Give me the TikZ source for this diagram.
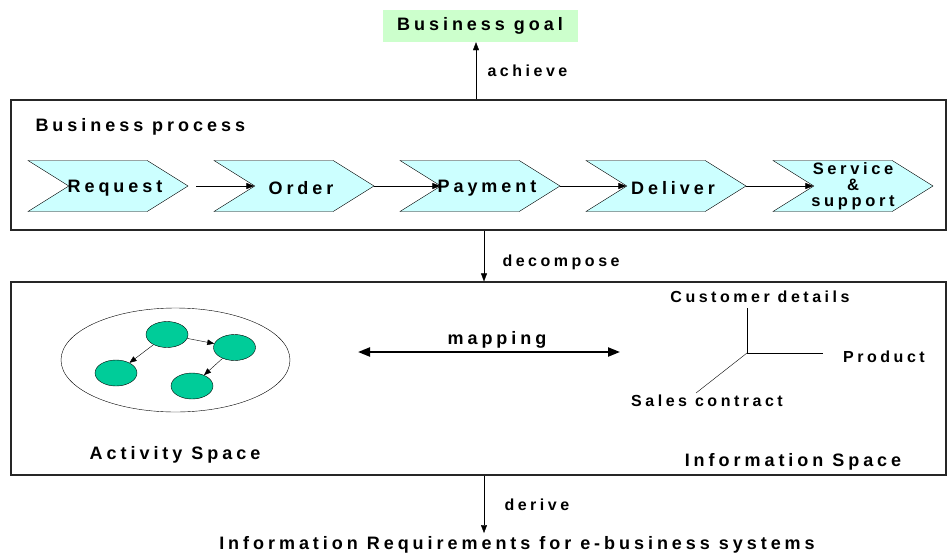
\documentclass[tikz,border=0pt]{standalone}
\usepackage{fontspec}
\setmainfont{Liberation Sans}
\newfontfamily\wide{Liberation Sans}[LetterSpace=22]
\usetikzlibrary{arrows.meta,shapes.geometric,shapes.symbols}

\definecolor{goalgreen}{RGB}{204,255,204}
\definecolor{stepcyan}{RGB}{204,255,255}
\definecolor{actgreen}{RGB}{0,204,153}

\begin{document}
\begin{tikzpicture}[x=1pt,y=-1pt,
		lbl/.style={font=\wide\bfseries\fontsize{18}{20}\selectfont},
		sml/.style={font=\wide\bfseries\fontsize{16}{17}\selectfont},
		steptext/.style={lbl, xshift=7pt, yshift=-2pt},
		frame/.style={draw=black!85, line width=1.2pt, minimum width=935pt, inner sep=0pt},
		chev/.style={signal, signal to=east, signal from=west, signal pointer angle=64, draw, fill=stepcyan, minimum width=160pt, minimum height=51pt, inner sep=0pt},
		act/.style={ellipse, draw, fill=actgreen, minimum width=42pt, minimum height=26pt, inner sep=0pt},
		tip/.style={-{Triangle[length=8pt,width=6pt]}}]
		\useasboundingbox (0,0) rectangle (947,554);
		
		% goal and frames
		\node[lbl, fill=goalgreen, minimum width=195pt, minimum height=32pt] (goal) at (480,26) {Business goal};
		\node[frame, minimum height=130pt] (proc) at (478.5,165) {};
		\node[frame, minimum height=193pt] (space) at (478.5,378.5) {};
		\node[lbl, anchor=west] (proctitle) at (32,127) {Business process};
		\node[lbl] (irq) at (517,545) {Information Requirements for e-business systems};
		
		\draw[tip] (proc.north -| 476,0) -- (goal.south -| 476,0);
		\node[sml, anchor=west] at (484,71) {achieve};
		\draw[tip] (proc.south -| 484,0) -- (space.north -| 484,0);
		\node[sml, anchor=west] at (499,262) {decompose};
		\draw[tip] (space.south -| 484,0) -- (irq.north -| 484,0);
		\node[sml, anchor=west] at (501,505) {derive};
		
		% process steps
		\node[chev, label={[steptext]center:Request}] (req) at (108,186) {};
		\node[chev, label={[steptext]center:Order}] (ord) at (294,186) {};
		\node[chev, label={[steptext]center:Payment}] (pay) at (480,186) {};
		\node[chev, label={[steptext]center:Deliver}] (dlv) at (666,186) {};
		\node[chev, label={[font=\wide\bfseries\fontsize{16.5}{16}\selectfont, align=center]center:Service\\\&\\support}] (srv) at (853,186) {};
		\draw[tip] (req.east) ++(8,0) -- (ord.west);
		\draw[tip] (ord.east) -- (pay.west);
		\draw[tip] (pay.east) -- (dlv.west);
		\draw[tip] (dlv.east) -- (srv.west);
		
		% activity space
		\node[ellipse, draw, minimum width=229pt, minimum height=104pt] (actsp) at (175.5,360) {};
		\node[act] (a1) at (167,334.5) {};
		\node[act] (a2) at (234.5,347.5) {};
		\node[act] (a3) at (116,373) {};
		\node[act] (a4) at (192,386) {};
		\draw[-{Triangle[length=7pt,width=5.5pt]}] (a1) -- (a3);
		\draw[-{Triangle[length=7pt,width=5.5pt]}] (a1) -- (a2);
		\draw[-{Triangle[length=7pt,width=5.5pt]}] (a2) -- (a4);
		\node[lbl] at (175,455) {Activity Space};
		
		% mapping
		\coordinate (mapl) at (358,352);
		\coordinate (mapr) at (620,352);
		\draw[{Triangle[length=12pt,width=9pt]}-{Triangle[length=12pt,width=9pt]}, line width=2.2pt] (mapl) -- (mapr);
		\node[lbl] at (497,340) {mapping};
		
		% information space
		\coordinate (org) at (747,353);
		\coordinate (axc) at (747,308);
		\coordinate (axp) at (823,353);
		\coordinate (axs) at (696,393);
		\draw (org) -- (axc);
		\draw (org) -- (axp);
		\draw (org) -- (axs);
		\node[sml] at (760,297) {Customer details};
		\node[sml] at (884,357) {Product};
		\node[sml] at (707,401) {Sales contract};
		\node[lbl] at (793,462) {Information Space};
		
	\end{tikzpicture}
\end{document}
